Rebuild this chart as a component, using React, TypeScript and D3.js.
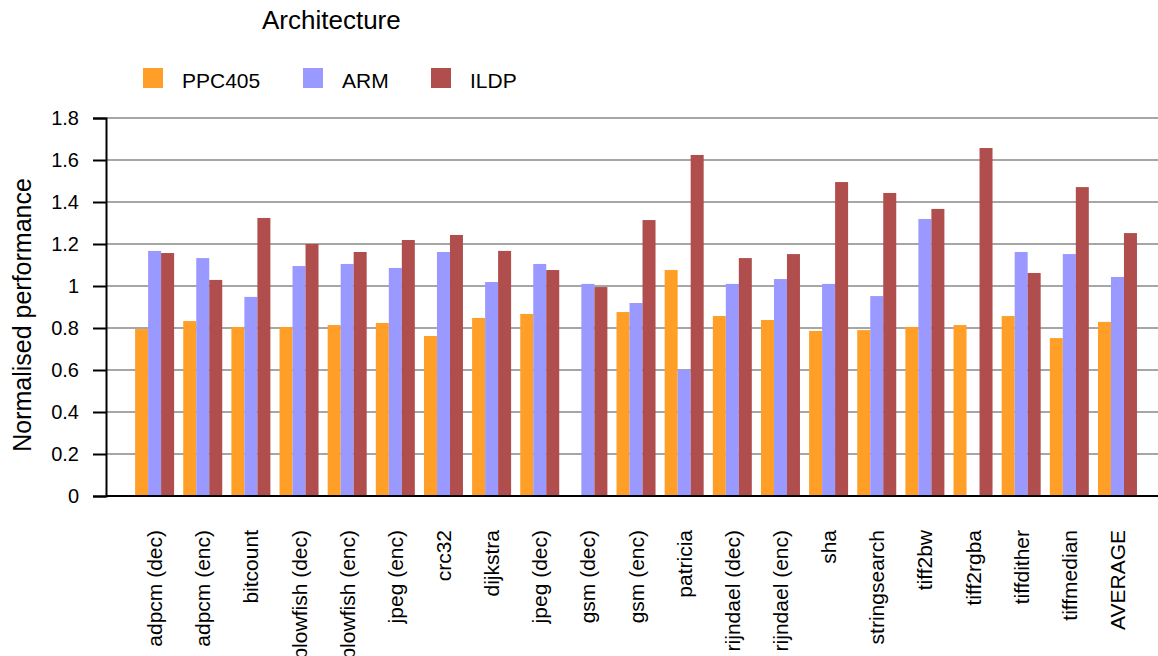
import React, { useEffect, useRef } from "react";
import * as d3 from "d3";

const benchmarks = [
  "adpcm (dec)", "adpcm (enc)", "bitcount", "blowfish (dec)", "blowfish (enc)",
  "jpeg (enc)", "crc32", "dijkstra", "jpeg (dec)", "gsm (dec)", "gsm (enc)",
  "patricia", "rijndael (dec)", "rijndael (enc)", "sha", "stringsearch",
  "tiff2bw", "tiff2rgba", "tiffdither", "tiffmedian", "AVERAGE",
];
const seriesNames = ["PPC405", "ARM", "ILDP"];
const ppc405 = [0.795, 0.833, 0.805, 0.805, 0.814, 0.824, 0.762, 0.848, 0.867, 0, 0.876,
  1.076, 0.857, 0.838, 0.786, 0.79, 0.805, 0.814, 0.857, 0.752, 0.829];
const arm = [1.167, 1.133, 0.948, 1.095, 1.105, 1.086, 1.162, 1.019, 1.105, 1.01, 0.919,
  0.601, 1.01, 1.033, 1.01, 0.952, 1.319, 0, 1.162, 1.152, 1.043];
const ildp = [1.157, 1.029, 1.324, 1.2, 1.162, 1.219, 1.243, 1.167, 1.076, 0.995, 1.314,
  1.624, 1.133, 1.152, 1.495, 1.443, 1.367, 1.657, 1.062, 1.471, 1.252];
const yTicks = [0, 0.2, 0.4, 0.6, 0.8, 1, 1.2, 1.4, 1.6, 1.8];
const colors = ["#ff9f27", "#9999ff", "#b04e4e"];

export default function App() {
  const ref = useRef<SVGSVGElement>(null);

  useEffect(() => {
    const svg = d3.select(ref.current);
    svg.selectAll("*").remove();
    const W = 1158, H = 656;
    const left = 106, top = 118, bottom = 496;
    const font = "'Liberation Sans', Arial, sans-serif";

    const rows = benchmarks.map((b, i) => ({ name: b, vals: [ppc405[i], arm[i], ildp[i]] }));

    const x = d3.scaleBand().domain(benchmarks).range([130.5, 1141.5]);
    const xs = d3.scaleBand().domain(seriesNames).range([4.6, 43.6]);
    const y = d3.scaleLinear().domain([0, 1.8]).range([bottom, top]);

    // gridlines
    svg.append("g").selectAll("line")
      .data(yTicks.filter(t => t > 0))
      .join("line")
      .attr("x1", left).attr("x2", W)
      .attr("y1", d => y(d)).attr("y2", d => y(d))
      .attr("stroke", "#a6a6a6").attr("stroke-width", 2);

    // bars
    const g = svg.append("g").selectAll("g")
      .data(rows)
      .join("g")
      .attr("transform", d => `translate(${x(d.name)},0)`);
    g.selectAll("rect")
      .data(d => d.vals.map((v, k) => ({ k, v })))
      .join("rect")
      .attr("x", d => xs(seriesNames[d.k])!)
      .attr("width", xs.bandwidth())
      .attr("y", d => y(d.v))
      .attr("height", d => bottom - y(d.v))
      .attr("fill", d => colors[d.k]);

    // y axis
    const ya = svg.append("g")
      .attr("transform", `translate(${left},0)`)
      .call(d3.axisLeft(y).tickValues(yTicks).tickSize(13).tickPadding(14).tickFormat(d3.format("~g")));
    ya.select(".domain").attr("stroke", "#000").attr("stroke-width", 2);
    ya.selectAll(".tick line").attr("stroke", "#000").attr("stroke-width", 2);
    ya.selectAll("text").attr("font-family", font).attr("font-size", 20).attr("fill", "#000");

    // x axis line
    svg.append("line")
      .attr("x1", left).attr("x2", W)
      .attr("y1", bottom).attr("y2", bottom)
      .attr("stroke", "#000").attr("stroke-width", 2);

    // category labels
    svg.append("g").selectAll("text")
      .data(benchmarks)
      .join("text")
      .attr("transform", d => `translate(${x(d)! + x.bandwidth() / 2},530) rotate(-90)`)
      .attr("text-anchor", "end")
      .attr("dominant-baseline", "central")
      .attr("font-family", font).attr("font-size", 21)
      .text(d => d);

    // y title
    svg.append("text")
      .attr("transform", "translate(22,315) rotate(-90)")
      .attr("text-anchor", "middle")
      .attr("dominant-baseline", "central")
      .attr("font-family", font).attr("font-size", 25)
      .text("Normalised performance");

    // title
    svg.append("text")
      .attr("x", 262).attr("y", 29)
      .attr("font-family", font).attr("font-size", 26)
      .text("Architecture");

    // legend
    const legendX = [143, 303, 431];
    const lg = svg.append("g").selectAll("g")
      .data(seriesNames)
      .join("g")
      .attr("transform", (d, i) => `translate(${legendX[i]},68)`);
    lg.append("rect").attr("width", 20).attr("height", 20).attr("fill", (d, i) => colors[i]);
    lg.append("text")
      .attr("x", 39).attr("y", 20)
      .attr("font-family", font).attr("font-size", 21)
      .text(d => d);

    svg.attr("width", W).attr("height", H);
  }, []);

  return (
    <svg ref={ref} width={1158} height={656}
      style={{ position: "absolute", left: 0, top: 0, background: "#fff" }} />
  );
}
